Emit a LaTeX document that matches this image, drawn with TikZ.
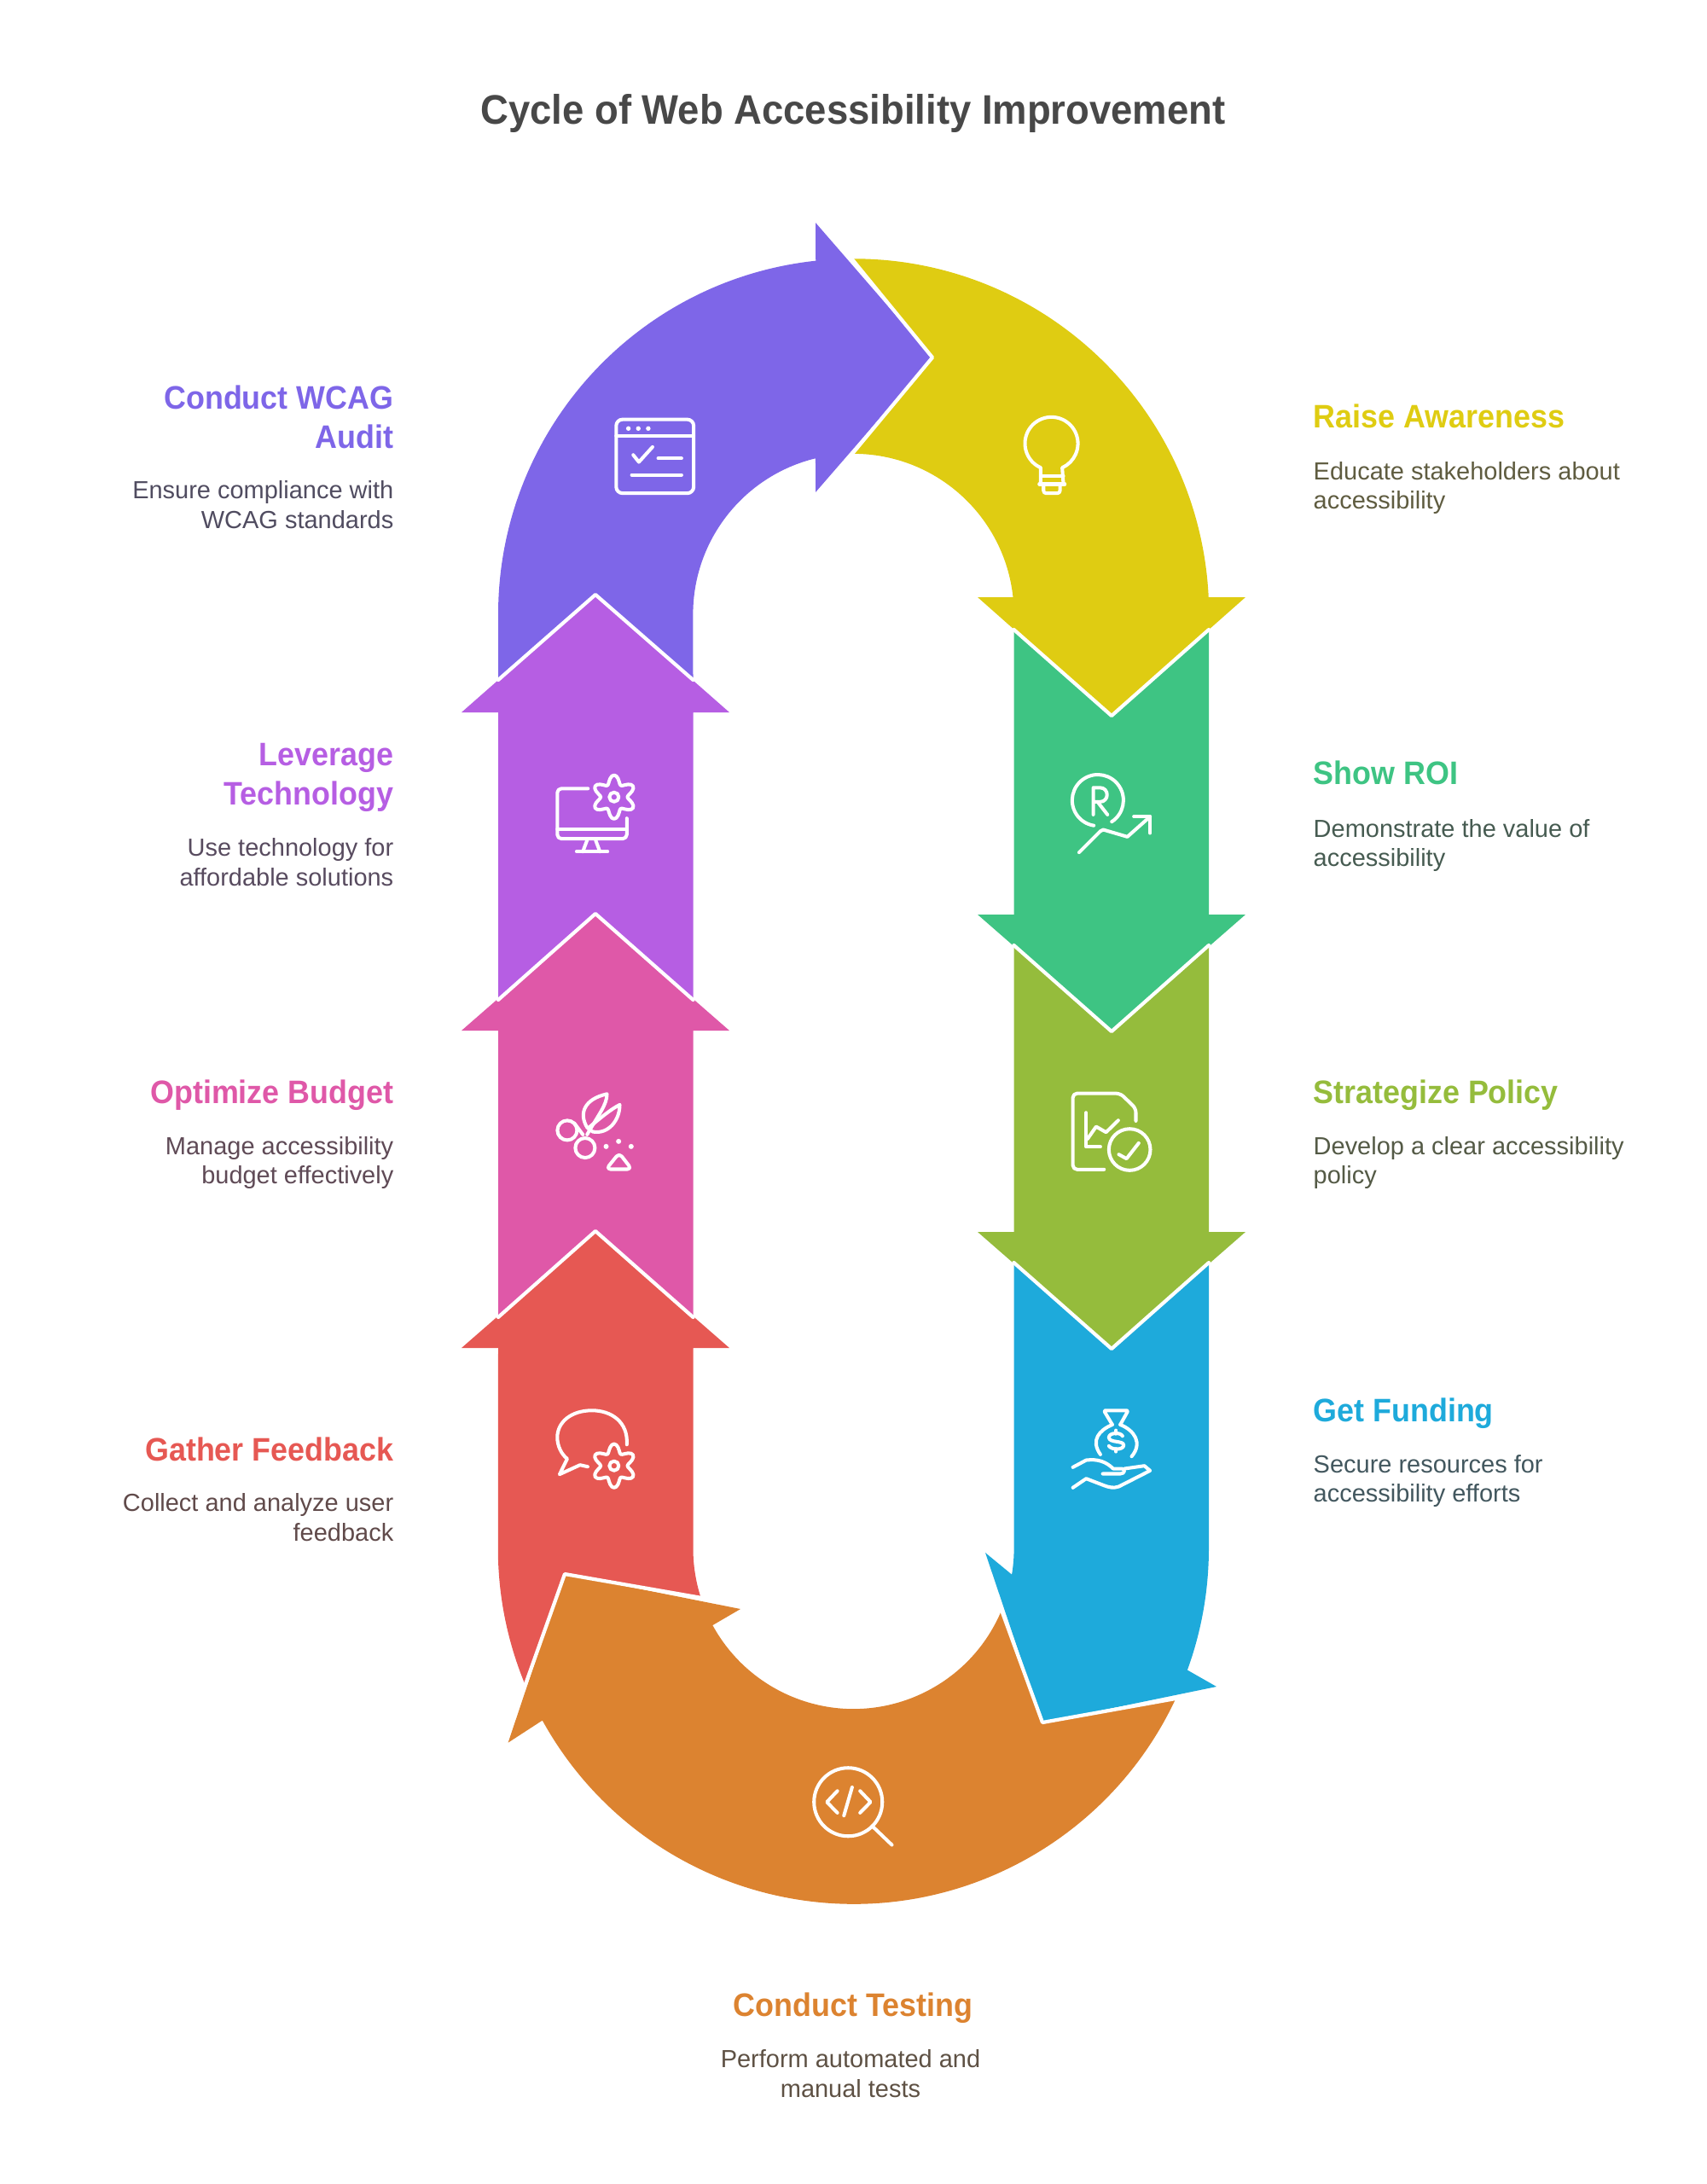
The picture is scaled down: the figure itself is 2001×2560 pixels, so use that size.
\documentclass[tikz,border=0pt]{standalone}
\usepackage{fontspec}
\setmainfont{Liberation Sans}[BoldFeatures={FakeStretch=0.94}]
\definecolor{cpurple}{HTML}{7E66E8}
\definecolor{cyellow}{HTML}{DFCC12}
\definecolor{cgreen}{HTML}{3EC483}
\definecolor{clime}{HTML}{95BC3C}
\definecolor{cblue}{HTML}{1EAADB}
\definecolor{corange}{HTML}{DC8330}
\definecolor{cred}{HTML}{E65853}
\definecolor{cpink}{HTML}{DF58A8}
\definecolor{cviolet}{HTML}{B65EE3}
\definecolor{ctitle}{HTML}{484848}
\tikzset{
  seg/.style={fill=#1,draw=none},
  joint/.style={draw=white,line width=1.2pt,line join=round,line cap=round},
  ico/.style={draw=white,line width=1.15pt,line cap=round,line join=round},
  dot/.style={fill=white,draw=none},
  iconat/.style 2 args={shift={(#1,#2)},x=0.00333333cm,y=-0.00333333cm},
  head/.style={font=\bfseries\fontsize{10.85}{13.1}\selectfont,text=#1,inner sep=0pt},
  bodyr/.style={font=\fontsize{8.24}{9.9}\selectfont,text=#1,inner sep=0pt,align=right,anchor=east},
  bodyl/.style={font=\fontsize{8.24}{9.9}\selectfont,text=#1,inner sep=0pt,align=left,anchor=west}
}
\newcommand{\gearat}[2]{%
  \draw[ico] plot[smooth cycle,domain=0:354,samples=60,variable=\t]
    ({#1+(62+15*cos(6*\t))*sin(\t)},{#2+(62+15*cos(6*\t))*cos(\t)});
  \draw[ico] (#1,#2) circle[radius=0.055cm];}
\begin{document}
\begin{tikzpicture}[x=0.01cm,y=-0.01cm]
\useasboundingbox (0,0) rectangle (2001,2560);
% segments
\path[seg=cyellow] ([shift={(90:4.165cm)}]1000.5,720) arc[start angle=90,end angle=2.75,radius=4.165cm]
  -- (1460,700) -- (1303,839) -- (1146,700) -- (1187.5,700)
  arc[start angle=6.1,end angle=90,radius=1.88cm] -- (1093,419) -- cycle;
\path[seg=cpurple] (584,797) -- (584,720) arc[start angle=180,end angle=96.13,radius=4.165cm]
  -- (956,261) -- (1093,419) -- (956,577) -- ([shift={(103.69:1.88cm)}]1000.5,720)
  arc[start angle=103.69,end angle=180,radius=1.88cm] -- (812.5,797) -- (698,697) -- cycle;
\path[seg=cviolet] (698,697) -- (855,835) -- (812.5,835) -- (812.5,1172) -- (698,1071) -- (584,1172) -- (584,835) -- (541,835) -- cycle;
\path[seg=cpink] (698,1071) -- (855,1208) -- (812.5,1208) -- (812.5,1544) -- (698,1443) -- (584,1544) -- (584,1208) -- (541,1208) -- cycle;
\path[seg=cred] (698,1443) -- (855,1580) -- (812.5,1580) -- (812.5,1815)
  arc[start angle=180,end angle=197.8,radius=1.88cm] -- (662,1845) -- ([shift={(202.6:4.165cm)}]1000.5,1815)
  arc[start angle=202.6,end angle=180,radius=4.165cm] -- (584,1580) -- (541,1580) -- cycle;
\path[seg=corange] ([shift={(208.93:4.165cm)}]1000.5,1815) arc[start angle=208.93,end angle=335,radius=4.165cm]
  -- (1222,2019) -- ([shift={(337.35:1.88cm)}]1000.5,1815)
  arc[start angle=337.35,end angle=208.6,radius=1.88cm] -- (868,1886) -- (662,1845) -- (595.6,2042.7) -- cycle;
\path[seg=cblue] (1188.5,1480) -- (1303,1581) -- (1417,1480) -- (1417,1815)
  arc[start angle=0,end angle=-20,radius=4.165cm] -- (1426,1977) -- (1222,2019) -- (1155,1820) -- ([shift={(-9.37:1.88cm)}]1000.5,1815)
  arc[start angle=-9.37,end angle=0,radius=1.88cm] -- cycle;
\path[seg=clime] (1188.5,1108) -- (1303,1209) -- (1417,1108) -- (1417,1444) -- (1460,1444) -- (1303,1581) -- (1146,1444) -- (1188.5,1444) -- cycle;
\path[seg=cgreen] (1188.5,738) -- (1303,839) -- (1417,738) -- (1417,1072) -- (1460,1072) -- (1303,1209) -- (1146,1072) -- (1188.5,1072) -- cycle;
% joints between segments
\draw[joint] (999,304) -- (1093,419) -- (999,532);
\draw[joint] (584,797) -- (698,697) -- (812.5,797);
\draw[joint] (584,1172) -- (698,1071) -- (812.5,1172);
\draw[joint] (584,1544) -- (698,1443) -- (812.5,1544);
\draw[joint] (1188.5,738) -- (1303,839) -- (1417,738);
\draw[joint] (1188.5,1108) -- (1303,1209) -- (1417,1108);
\draw[joint] (1188.5,1480) -- (1303,1581) -- (1417,1480);
\draw[joint] (1378,1991) -- (1222,2019) -- (1174,1887.4);
\draw[joint] (615.7,1975) -- (662,1845) -- (821,1872.7);
% icon: window (purple)
\begin{scope}[iconat={700}{470}]
\draw[ico,rounded corners=0.075cm] (67,65) rectangle (340,325);
\draw[ico] (67,122) -- (340,122);
\foreach \a in {110,145,180} \fill[dot] (\a,97) circle[radius=0.027cm];
\draw[ico] (127,190) -- (147,215) -- (195,162);
\draw[ico] (215,202) -- (297,202);
\draw[ico] (122,260) -- (297,260);
\end{scope}
% icon: bulb (yellow)
\begin{scope}[iconat={1170}{470}]
\draw[ico] (150,293) -- (150,235) arc[start angle=246,end angle=-66,radius=0.31cm] -- (230,293);
\draw[ico] (150,265) -- (230,265);
\draw[ico] (145,293) -- (235,293);
\draw[ico,rounded corners=0.03cm] (160,295) -- (160,325) -- (218,325) -- (218,295);
\end{scope}
% icon: monitor and gear (violet)
\begin{scope}[iconat={620}{880}]
\draw[ico,rounded corners=0.05cm] (208,133) -- (100,133) -- (100,310) -- (345,310) -- (345,238);
\draw[ico] (100,275) -- (345,275);
\draw[ico] (205,315) -- (190,355);
\draw[ico] (235,315) -- (250,355);
\draw[ico] (168,355) -- (277,355);
\gearat{300}{163}
\end{scope}
% icon: scissors (pink)
\begin{scope}[iconat={620}{1250}]
\draw[ico] (135,225) circle[radius=0.115cm];
\draw[ico] (198,287) circle[radius=0.115cm];
\draw[ico] (160,200) -- (190,240);
\draw[ico] (205,215) .. controls (175,165) and (195,115) .. (275,97) .. controls (275,135) and (245,170) .. (205,240);
\draw[ico] (208,218) .. controls (260,175) and (290,150) .. (320,135) .. controls (320,190) and (280,240) .. (225,230) -- (208,218);
\foreach \a/\b in {272/282,316/264,360/282} \fill[dot] (\a,\b) circle[radius=0.03cm];
\draw[ico,rounded corners=0.05cm] (318,305) -- (272,362) -- (362,362) -- cycle;
\end{scope}
% icon: speech bubble and gear (red)
\begin{scope}[iconat={620}{1620}]
\draw[ico] (345,220) .. controls (350,140) and (290,100) .. (222,100)
  .. controls (150,100) and (100,140) .. (100,195)
  .. controls (100,225) and (115,255) .. (135,270) -- (108,325) -- (180,292) -- (207,298);
\gearat{300}{295}
\end{scope}
% icon: R with rising line (green)
\begin{scope}[iconat={1230}{880}]
\draw[ico] (220,250) arc[start angle=-57,end angle=261,radius=0.3cm];
\draw[ico] (155,225) -- (155,130) -- (178,130) .. controls (212,130) and (212,180) .. (178,180) -- (155,180);
\draw[ico] (170,180) -- (205,225);
\draw[ico] (105,358) -- (180,283) -- (190,278) -- (275,303) -- (355,232);
\draw[ico] (298,232) -- (355,232) -- (355,290);
\end{scope}
% icon: document (lime)
\begin{scope}[iconat={1230}{1250}]
\draw[ico,rounded corners=0.05cm] (193,363) -- (83,363) -- (83,95) -- (250,95) -- (305,148) -- (305,192);
\draw[ico] (130,163) -- (130,283) -- (180,283);
\draw[ico] (135,255) -- (165,212) -- (200,232) -- (243,190);
\draw[ico] (283,293) circle[radius=0.243cm];
\draw[ico] (245,310) -- (272,325) -- (315,270);
\end{scope}
% icon: money bag and hand (blue)
\begin{scope}[iconat={1230}{1620}]
\draw[ico,rounded corners=0.02cm] (222,150) -- (192,100) -- (278,100) -- (250,150);
\draw[ico] (222,150) .. controls (175,170) and (145,205) .. (180,255);
\draw[ico] (250,150) .. controls (300,170) and (330,215) .. (290,262);
\draw[ico] (258,190) .. controls (250,175) and (210,178) .. (210,195) .. controls (210,215) and (262,205) .. (262,222) .. controls (262,240) and (220,240) .. (210,225);
\draw[ico] (235,170) -- (235,182);
\draw[ico] (235,235) -- (235,245);
\draw[ico] (83,300) -- (130,275) .. controls (170,270) and (200,280) .. (225,305) -- (255,305) .. controls (268,305) and (268,323) .. (250,323) -- (188,323);
\draw[ico] (265,305) -- (335,295) -- (355,312) -- (245,368) .. controls (225,375) and (210,370) .. (195,365) -- (130,340) -- (83,372);
\end{scope}
% icon: magnifier with code (orange)
\begin{scope}[iconat={930}{2050}]
\draw[ico] (193,187) circle[radius=0.4cm];
\draw[ico] (278,272) -- (347,338);
\draw[ico] (155,148) -- (118,187) -- (155,225);
\draw[ico] (235,148) -- (272,187) -- (235,225);
\draw[ico] (207,135) -- (178,235);
\end{scope}
% texts
\node[font=\bfseries\fontsize{13.75}{16}\selectfont,text=ctitle,inner sep=0pt] (title) at (1000,133) {Cycle of Web Accessibility Improvement};
\node[head=cpurple,align=right,anchor=east] (h1) at (462,489) {Conduct WCAG\\Audit};
\node[bodyr=ctitle!85!cpurple] (b1) at (462,592) {Ensure compliance with\\WCAG standards};
\node[head=cviolet,align=right,anchor=east] (h2) at (462,911) {Leverage\\Technology};
\node[bodyr=ctitle!85!cviolet] (b2) at (462,1011) {Use technology for\\affordable solutions};
\node[head=cpink,anchor=east] (h3) at (462,1284) {Optimize Budget};
\node[bodyr=ctitle!85!cpink] (b3) at (462,1363) {Manage accessibility\\budget effectively};
\node[head=cred,anchor=east] (h4) at (462,1699) {Gather Feedback};
\node[bodyr=ctitle!85!cred] (b4) at (462,1779) {Collect and analyze user\\feedback};
\node[head=cyellow,anchor=west] (h5) at (1539,488) {Raise Awareness};
\node[bodyl=ctitle!85!cyellow] (b5) at (1539,572) {Educate stakeholders about\\accessibility};
\node[head=cgreen,anchor=west] (h6) at (1539,906) {Show ROI};
\node[bodyl=ctitle!85!cgreen] (b6) at (1539,991) {Demonstrate the value of\\accessibility};
\node[head=clime,anchor=west] (h7) at (1539,1284) {Strategize Policy};
\node[bodyl=ctitle!85!clime] (b7) at (1539,1363) {Develop a clear accessibility\\policy};
\node[head=cblue,anchor=west] (h8) at (1539,1657) {Get Funding};
\node[bodyl=ctitle!85!cblue] (b8) at (1539,1736) {Secure resources for\\accessibility efforts};
\node[head=corange] (h9) at (1000,2354) {Conduct Testing};
\node[font=\fontsize{8.24}{9.9}\selectfont,text=ctitle!85!corange,inner sep=0pt,align=center] (b9) at (997,2431) {Perform automated and\\manual tests};
\end{tikzpicture}
\end{document}
